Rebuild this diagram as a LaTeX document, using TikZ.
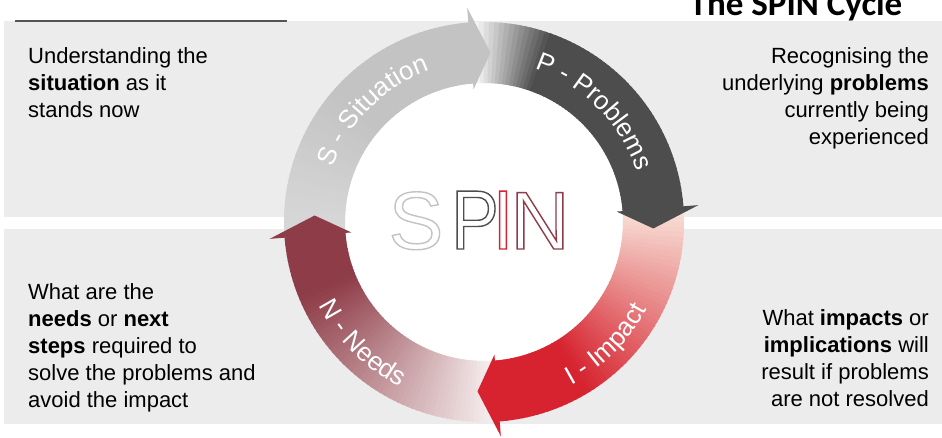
\documentclass[tikz,border=0pt]{standalone}
\usepackage{fontspec}
\setmainfont{Liberation Sans}
\newfontfamily\titlefont{Carlito}
\newfontfamily\spinfont[FakeStretch=0.85]{Liberation Sans}
\newfontfamily\spinwidefont{Liberation Sans}
\usepackage{tikz}
\usetikzlibrary{decorations.text}

\definecolor{panelgrey}{HTML}{ECECEC}
\definecolor{rulegrey}{HTML}{555555}
\definecolor{sitlight}{HTML}{D8D8D8}
\definecolor{sitgrey}{HTML}{C3C3C3}
\definecolor{problight}{HTML}{F4F4F4}
\definecolor{probgrey}{HTML}{4D4D4D}
\definecolor{implight}{HTML}{F8DDD4}
\definecolor{impred}{HTML}{D6232F}
\definecolor{needlight}{HTML}{F6EEEE}
\definecolor{needred}{HTML}{8E3C47}

\tikzset{
  panel/.style={fill=panelgrey},
  bodytext/.style={inner sep=0pt, font=\fontsize{22}{27}\selectfont},
  letterbox/.style={inner sep=0pt, anchor=base,
    font=\spinfont\fontsize{84}{84}\selectfont},
  wideletter/.style={letterbox, font=\spinwidefont\fontsize{82}{82}\selectfont},
  ringtext/.style={decorate, decoration={text along path, text align=center,
    text={|\fontsize{26}{26}\selectfont\color{white}|#1}}},
}

% ring radii
\def\rin{139}
\def\rout{200}

% shaft of one step: angle #1 to #2, colour #3 fading to #4 over fraction #5
\newcommand{\cycleshaft}[5]{%
  \foreach \k in {0,...,59}{%
    \pgfmathsetmacro{\angA}{#1+(#2-#1)*\k/60}%
    \pgfmathsetmacro{\angB}{#1+(#2-#1)*(\k+1.4)/60}%
    \pgfmathsetmacro{\mixpct}{min(100,100*\k/(59*#5))}%
    \fill[#4!\mixpct!#3] (\angA:\rin) arc[start angle=\angA, end angle=\angB, radius=\rin]
      -- (\angB:\rout) arc[start angle=\angB, end angle=\angA, radius=\rout] -- cycle;
  }}
% arrow head of one step, tip just past angle #1
\newcommand{\cyclehead}[2]{%
  \fill[#2] (#1+4.5:133) -- (#1-2.2:169.5) -- (#1+4.5:215) -- cycle;}
% hollow letters: glyphs stroked, not filled
\newcommand{\strokeonly}[1]{%
  \special{pdf:literal direct 1 Tr 1.4 w}#1\special{pdf:literal direct 0 Tr}}

\begin{document}
\begin{tikzpicture}[x=1pt, y=1pt]
  \useasboundingbox (0,0) rectangle (942,438);
  \clip (0,0) rectangle (942,438);

  % background panels
  \fill[panel] (4,221) rectangle (942,417);
  \fill[panel] (4,14) rectangle (942,209);
  \draw[rulegrey, line width=2pt] (15,417) -- (287,417);

  \node[anchor=base, inner sep=0pt, font=\titlefont\bfseries\fontsize{35}{35}\selectfont]
    (title) at (796,422) {The SPIN Cycle};

  % notes in the four corners
  \node[bodytext, anchor=north west, align=left] (sitnote) at (28,391)
    {Understanding the\\\textbf{situation} as it\\stands now};
  \node[bodytext, anchor=north east, align=right] (probnote) at (929,391)
    {Recognising the\\underlying \textbf{problems}\\currently being\\experienced};
  \node[bodytext, anchor=north west, align=left] (neednote) at (28,155)
    {What are the\\\textbf{needs} or \textbf{next}\\\textbf{steps} required to\\solve the problems and\\avoid the impact};
  \node[bodytext, anchor=north east, align=right] (impnote) at (929,129)
    {What \textbf{impacts} or\\\textbf{implications} will\\result if problems\\are not resolved};

  % the cycle
  \begin{scope}[shift={(484,216)}]
    \fill[white] (0,0) circle[radius=\rin];
    \cycleshaft{183}{94}{sitlight}{sitgrey}{0.5}
    \cycleshaft{93}{4}{problight}{probgrey}{0.25}
    \cycleshaft{3}{-86}{implight}{impred}{0.7}
    \cycleshaft{-87}{-176}{needlight}{needred}{0.8}
    \cyclehead{90}{sitgrey}
    \cyclehead{0}{probgrey}
    \cyclehead{-90}{impred}
    \cyclehead{-180}{needred}

    \path[ringtext={S - Situation}] (180:161) arc[start angle=180, end angle=90, radius=161];
    \path[ringtext={P - Problems}] (90:161) arc[start angle=90, end angle=0, radius=161];
    \path[ringtext={I - Impact}] (-90:185) arc[start angle=-90, end angle=0, radius=185];
    \path[ringtext={N - Needs}] (180:185) arc[start angle=180, end angle=270, radius=185];
  \end{scope}

  % hollow letters in the middle
  \node[wideletter, text=sitgrey] (spinS) at (416,189) {\strokeonly{S}};
  \foreach \ch/\px/\col in {P/475/probgrey, I/503/impred}
    \node[letterbox, text=\col] (spin\ch) at (\px,189) {\strokeonly{\ch}};
  \node[wideletter, text=needred] (spinN) at (540,189) {\strokeonly{N}};
\end{tikzpicture}
\end{document}
